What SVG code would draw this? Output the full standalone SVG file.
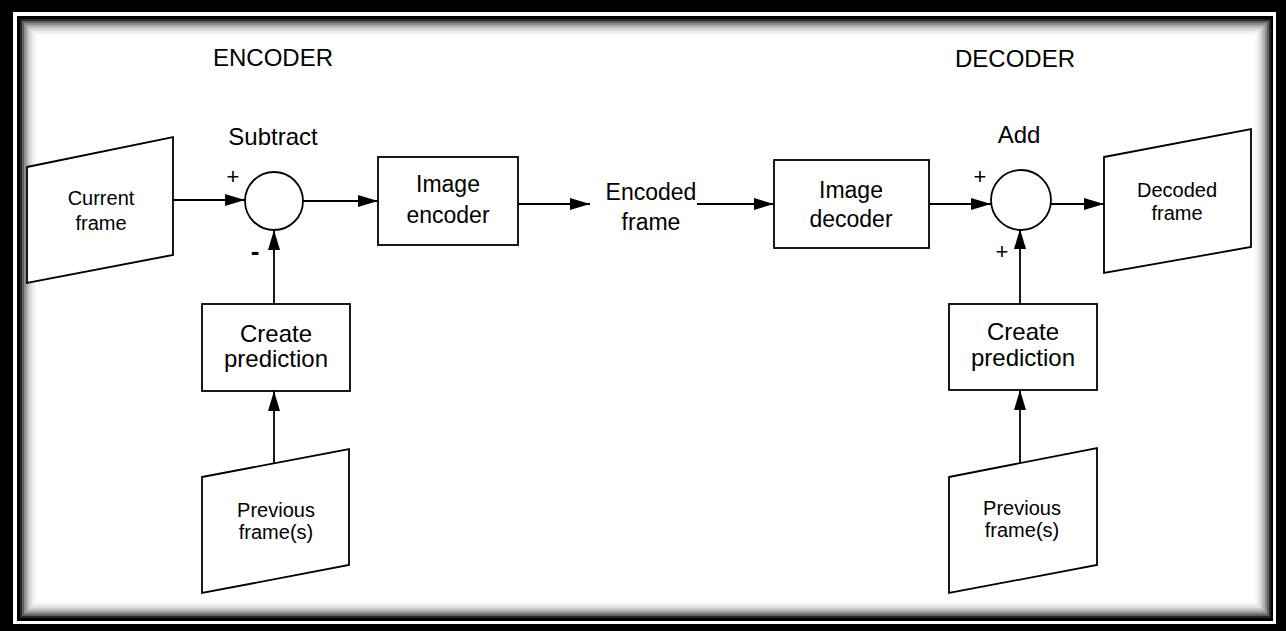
<svg xmlns="http://www.w3.org/2000/svg" width="1286" height="631" viewBox="0 0 1286 631">
  <defs>
    <marker id="arrow" markerUnits="userSpaceOnUse" markerWidth="22" markerHeight="14" refX="20" refY="6" orient="auto">
      <path d="M0,0 L20,6 L0,12 Z" fill="#000"/>
    </marker>
    <style>
      .shape { fill: #fff; stroke: #000; stroke-width: 1.8; }
      .wire { fill: none; stroke: #000; stroke-width: 1.8; marker-end: url(#arrow); }
      text { font-family: "Liberation Sans", Arial, Helvetica, sans-serif; fill: #000; text-anchor: middle; }
      .title { font-size: 24px; }
      .big { font-size: 23px; }
      .small { font-size: 20px; }
      .sign { font-size: 22px; }
      .minus { font-size: 26px; font-weight: bold; }
    </style>
  </defs>

  <!-- picture frame: black band, white gap, thin black line, soft inner shadow -->
  <rect width="1286" height="631" fill="#000"/>
  <rect x="13" y="12" width="1263" height="612" fill="#fff"/>
  <rect x="17" y="16" width="1256" height="605" fill="#000"/>
  <rect x="20" y="19" width="1251" height="599" fill="#fff"/>
  <g fill="none" stroke="#000" stroke-width="2">
    <rect x="21" y="20" width="1249" height="597" stroke-opacity="0.85"/>
    <rect x="23" y="22" width="1245" height="593" stroke-opacity="0.62"/>
    <rect x="25" y="24" width="1241" height="589" stroke-opacity="0.45"/>
    <rect x="27" y="26" width="1237" height="585" stroke-opacity="0.32"/>
    <rect x="29" y="28" width="1233" height="581" stroke-opacity="0.21"/>
    <rect x="31" y="30" width="1229" height="577" stroke-opacity="0.13"/>
    <rect x="33" y="32" width="1225" height="573" stroke-opacity="0.07"/>
    <rect x="35" y="34" width="1221" height="569" stroke-opacity="0.03"/>
  </g>

  <!-- section headings -->
  <g id="encoder-title"><text class="title" x="273" y="66">ENCODER</text></g>
  <g id="decoder-title"><text class="title" x="1015" y="67">DECODER</text></g>

  <!-- connectors -->
  <g id="connectors">
    <line class="wire" x1="173" y1="200" x2="245" y2="200"/>
    <line class="wire" x1="303" y1="201" x2="378" y2="201"/>
    <line class="wire" x1="518" y1="204" x2="590" y2="204"/>
    <line class="wire" x1="697" y1="204" x2="774" y2="204"/>
    <line class="wire" x1="929" y1="204" x2="991" y2="204"/>
    <line class="wire" x1="1051" y1="204" x2="1104" y2="204"/>
    <line class="wire" x1="274" y1="304" x2="274" y2="230"/>
    <line class="wire" x1="274" y1="464" x2="274" y2="391"/>
    <line class="wire" x1="1020" y1="304" x2="1020" y2="229"/>
    <line class="wire" x1="1020" y1="464" x2="1020" y2="390"/>
  </g>

  <!-- encoder side -->
  <g id="current-frame">
    <polygon class="shape" points="27,167 173,137 173,255 27,283"/>
    <text class="small" x="101" y="205">Current</text>
    <text class="small" x="101" y="230">frame</text>
  </g>

  <g id="subtract">
    <circle class="shape" cx="274" cy="201" r="29"/>
    <text class="title" x="273" y="145">Subtract</text>
    <text class="sign" x="233" y="184">+</text>
    <text class="minus" x="255" y="260">-</text>
  </g>

  <g id="image-encoder">
    <rect class="shape" x="378" y="157" width="140" height="88"/>
    <text class="big" x="448" y="192">Image</text>
    <text class="big" x="448" y="223">encoder</text>
  </g>

  <g id="create-prediction-enc">
    <rect class="shape" x="202" y="304" width="148" height="87"/>
    <text class="title" x="276" y="342">Create</text>
    <text class="title" x="276" y="367">prediction</text>
  </g>

  <g id="previous-frames-enc">
    <polygon class="shape" points="202,477 349,449 349,565 202,593"/>
    <text class="small" x="276" y="517">Previous</text>
    <text class="small" x="276" y="539">frame(s)</text>
  </g>

  <!-- channel -->
  <g id="encoded-frame">
    <text class="big" x="651" y="200">Encoded</text>
    <text class="big" x="651" y="230">frame</text>
  </g>

  <!-- decoder side -->
  <g id="image-decoder">
    <rect class="shape" x="774" y="160" width="155" height="88"/>
    <text class="big" x="851" y="198">Image</text>
    <text class="big" x="851" y="227">decoder</text>
  </g>

  <g id="add">
    <circle class="shape" cx="1021" cy="200" r="30"/>
    <text class="title" x="1019" y="143">Add</text>
    <text class="sign" x="980" y="184">+</text>
    <text class="sign" x="1002" y="259">+</text>
  </g>

  <g id="decoded-frame">
    <polygon class="shape" points="1104,157 1251,129 1251,247 1104,273"/>
    <text class="small" x="1177" y="197">Decoded</text>
    <text class="small" x="1177" y="220">frame</text>
  </g>

  <g id="create-prediction-dec">
    <rect class="shape" x="949" y="304" width="148" height="86"/>
    <text class="title" x="1023" y="340">Create</text>
    <text class="title" x="1023" y="366">prediction</text>
  </g>

  <g id="previous-frames-dec">
    <polygon class="shape" points="949,477 1097,448 1097,565 949,593"/>
    <text class="small" x="1022" y="515">Previous</text>
    <text class="small" x="1022" y="537">frame(s)</text>
  </g>
</svg>
